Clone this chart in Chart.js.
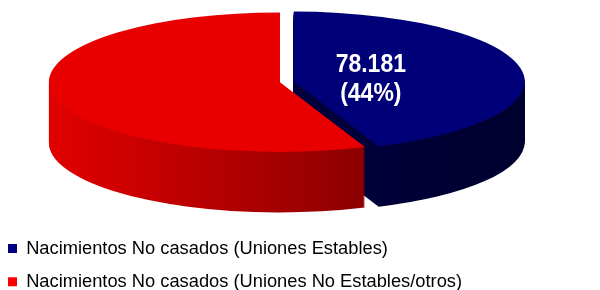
<!DOCTYPE html>
<html>
<head>
<meta charset="utf-8">
<script src="https://cdn.jsdelivr.net/npm/chart.js@4.4.1/dist/chart.umd.min.js"></script>
<style>
  html, body { margin: 0; padding: 0; background: #fff; }
  #wrap { width: 600px; height: 290px; }
</style>
</head>
<body>
<div id="wrap"><canvas id="myChart"></canvas></div>
<script>
const categories = [
    'Nacimientos No casados (Uniones Estables)',
    'Nacimientos No casados (Uniones No Estables/otros)'
];
const values = [78181, 99500];
const showLabel = [true, false];

const topColors = ['#000078', '#e80000'];
const sideColors = [['#00003e', '#00002e'], ['#e20000', '#8c0000']];
const legendColors = ['#000080', '#ff0000'];

// fake 3d pie: chart.js gives the angles, we squash + extrude them
const pie3d = {
    id: 'pie3d',
    beforeDatasetsDraw(chart) {
        const ctx = chart.ctx;
        const area = chart.chartArea;
        const meta = chart.getDatasetMeta(0);
        const w = area.right - area.left;
        const rx = w * 0.385;
        const ry = rx * 0.302;
        const depth = rx * 0.262;
        const gap = 7;
        const cx = area.left + w * 0.478;
        const cy = area.top + ry;
        const total = values.reduce((a, b) => a + b, 0);

        const sectors = meta.data.map((arc, i) => {
            const p = arc.getProps(['startAngle', 'endAngle'], true);
            const mid = (p.startAngle + p.endAngle) / 2;
            return {
                i: i, a0: p.startAngle, a1: p.endAngle, mid: mid,
                x: cx + gap * Math.cos(mid),
                y: cy + gap * Math.sin(mid) * ry / rx
            };
        });

        const path = (s, dy) => {
            ctx.beginPath();
            ctx.moveTo(s.x, s.y + dy);
            ctx.ellipse(s.x, s.y + dy, rx, ry, 0, s.a0, s.a1);
            ctx.closePath();
        };

        ctx.save();
        // sides
        sectors.forEach(s => {
            let minX = s.x, maxX = s.x;
            for (let t = s.a0; t <= s.a1; t += 0.01) {
                if (Math.sin(t) >= 0) {
                    const px = s.x + rx * Math.cos(t);
                    minX = Math.min(minX, px);
                    maxX = Math.max(maxX, px);
                }
            }
            [s.a0, s.a1].forEach(t => {
                const px = s.x + rx * Math.cos(t);
                minX = Math.min(minX, px);
                maxX = Math.max(maxX, px);
            });
            const g = ctx.createLinearGradient(minX, 0, maxX, 0);
            g.addColorStop(0, sideColors[s.i][0]);
            g.addColorStop(1, sideColors[s.i][1]);
            ctx.fillStyle = g;
            for (let k = depth; k >= 1; k--) {
                path(s, k);
                ctx.fill();
            }
        });
        // tops
        sectors.forEach(s => {
            path(s, 0);
            ctx.fillStyle = topColors[s.i];
            ctx.fill();
        });
        // labels
        ctx.fillStyle = '#ffffff';
        ctx.textAlign = 'center';
        ctx.textBaseline = 'middle';
        ctx.font = 'bold 23px "Liberation Sans", Arial, sans-serif';
        sectors.forEach(s => {
            if (!showLabel[s.i]) return;
            const v = values[s.i];
            const txt = v.toLocaleString('de-DE');
            const pct = '(' + Math.round(v / total * 100) + '%)';
            const lx = s.x + 0.34 * rx * Math.cos(s.mid);
            const ly = s.y + 0.34 * ry * Math.sin(s.mid) + 2;
            ctx.save();
            ctx.translate(lx, ly);
            ctx.scale(1, 1.15);
            ctx.fillText(txt, 0, -12.5);
            ctx.fillText(pct, 0, 12.5);
            ctx.restore();
        });
        ctx.restore();
        return false;
    }
};

const ctx = document.getElementById('myChart').getContext('2d');
new Chart(ctx, {
    type: 'pie',
    data: {
        labels: categories,
        datasets: [{
            data: values,
            backgroundColor: legendColors,
            borderWidth: 0
        }]
    },
    options: {
        responsive: true,
        maintainAspectRatio: false,
        animation: false,
        layout: { padding: { top: 12, left: -7, bottom: -11 } },
        plugins: {
            tooltip: { enabled: false },
            legend: {
                position: 'bottom',
                align: 'start',
                labels: {
                    boxWidth: 9,
                    boxHeight: 9,
                    padding: 15,
                    color: '#000000',
                    font: { family: '"Liberation Sans", Arial, sans-serif', size: 18.3 }
                }
            }
        }
    },
    plugins: [pie3d]
});
</script>
</body>
</html>
